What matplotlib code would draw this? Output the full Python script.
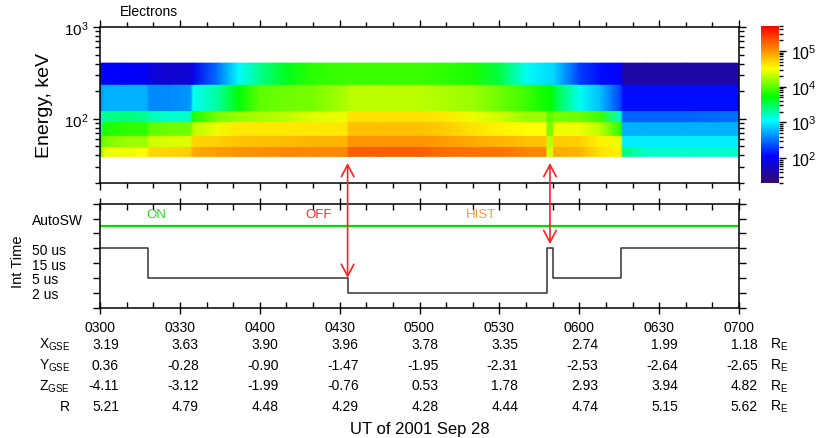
import matplotlib
matplotlib.use('Agg')
import matplotlib.pyplot as plt
import numpy as np
from matplotlib.colors import LinearSegmentedColormap, LogNorm
from matplotlib.patches import ConnectionPatch
from matplotlib.ticker import LogLocator, NullFormatter, MultipleLocator

plt.rcParams['font.family'] = ['Liberation Sans', 'DejaVu Sans']
plt.rcParams['mathtext.fontset'] = 'custom'
plt.rcParams['mathtext.rm'] = 'Liberation Sans'
plt.rcParams['mathtext.it'] = 'Liberation Sans'

# electron energy channel edges, keV
energy_edges = [39, 50, 66, 93, 123, 238, 404]

# spectrogram sample times, minutes after 03:00 UT
t_spec = [0, 1.5, 10, 17.5, 18.5, 26, 34, 35, 44, 52, 60, 70, 80, 92.5, 93.5, 105,
          120, 130, 140, 150, 160, 167.5, 168, 170, 170.5, 180, 188, 195.5, 196.5,
          205, 220, 240]

# log10 intensity per channel (lowest energy first)
ch1 = [3.95, 4.45, 4.45, 4.5, 4.7, 4.7, 4.72, 4.9, 4.95, 5.0, 5.02, 5.05, 5.05, 5.05, 5.25, 5.25,
       5.25, 5.18, 5.15, 5.15, 5.08, 5.05, 4.38, 4.38, 4.9, 4.85, 4.65, 4.55, 3.4,
       3.2, 3.2, 3.2]
ch2 = [3.85, 4.1, 4.2, 4.2, 4.35, 4.38, 4.4, 4.7, 4.72, 4.78, 4.8, 4.82, 4.85, 4.85, 5.0, 5.0,
       5.0, 4.95, 4.9, 4.85, 4.8, 4.78, 4.3, 4.3, 4.75, 4.72, 4.55, 4.45, 3.0,
       3.0, 3.0, 3.0]
ch3 = [3.1, 3.8, 3.85, 3.85, 4.0, 4.05, 4.05, 4.3, 4.45, 4.6, 4.6, 4.6, 4.6, 4.6, 4.8, 4.8,
       4.8, 4.72, 4.65, 4.55, 4.5, 4.5, 4.1, 4.1, 4.45, 4.45, 4.3, 3.85, 2.75,
       2.75, 2.75, 2.75]
ch4 = [3.0, 3.35, 3.4, 3.35, 3.25, 3.2, 3.2, 3.8, 4.1, 4.2, 4.25, 4.3, 4.4, 4.45, 4.65, 4.65,
       4.65, 4.6, 4.45, 4.35, 4.2, 4.2, 4.0, 4.0, 4.1, 4.05, 3.9, 3.2, 2.45,
       2.45, 2.45, 2.5]
ch5 = [2.6, 2.75, 2.75, 2.75, 2.6, 2.6, 2.65, 3.1, 3.3, 3.7, 4.0, 4.05, 4.1, 4.25, 4.3, 4.3,
       4.3, 4.25, 4.2, 4.05, 3.9, 3.75, 3.75, 3.7, 3.6, 3.1, 2.8, 2.3, 2.1,
       2.1, 2.1, 2.1]
ch6 = [2.1, 2.05, 2.05, 2.0, 1.9, 1.8, 1.85, 1.95, 2.5, 3.05, 3.35, 3.65, 3.85, 3.9, 3.9, 3.9,
       3.9, 3.85, 3.8, 3.55, 3.1, 2.95, 2.95, 2.9, 2.9, 2.3, 2.1, 2.05, 1.6,
       1.6, 1.6, 1.6]

# integration time mode: 1=2us, 2=5us, 3=15us, 4=50us
t_int = [0, 18, 93, 168, 170, 195.5, 240]
int_level = [4, 2, 1, 4, 2, 4, 4]
autosw_level = 5.5
mode_labels = ['ON', 'OFF', 'HIST']
mode_times = [21, 82, 143]
mode_colors = ['#22e022', '#ff2828', '#ff9933']
ytick_pos = [1, 2, 3, 4, 6]
ytick_text = ['2 us', '5 us', '15 us', '50 us', 'AutoSW']

# arrows: time, Int Time level at tip
arrow_times = [93, 169]
arrow_tips = [2.0, 4.28]

# orbit table
tick_labels = ['0300', '0330', '0400', '0430', '0500', '0530', '0600', '0630', '0700']
x_gse = [3.19, 3.63, 3.90, 3.96, 3.78, 3.35, 2.74, 1.99, 1.18]
y_gse = [0.36, -0.28, -0.90, -1.47, -1.95, -2.31, -2.53, -2.64, -2.65]
z_gse = [-4.11, -3.12, -1.99, -0.76, 0.53, 1.78, 2.93, 3.94, 4.82]
r_dist = [5.21, 4.79, 4.48, 4.29, 4.28, 4.44, 4.74, 5.15, 5.62]

cmap = LinearSegmentedColormap.from_list('rainbow39', [
    (0.00, (0.20, 0.05, 0.42)),
    (0.17, (0.0, 0.0, 1.0)),
    (0.40, (0.0, 1.0, 1.0)),
    (0.55, (0.0, 1.0, 0.0)),
    (0.73, (1.0, 1.0, 0.0)),
    (0.85, (1.0, 0.55, 0.0)),
    (1.00, (1.0, 0.0, 0.0)),
])
norm = LogNorm(vmin=20, vmax=5e5)

fig = plt.figure(figsize=(8.18, 4.39), dpi=100)
W, H = 818, 439
ax1 = fig.add_axes([100 / W, 1 - 184 / H, 639 / W, 156 / H])
ax2 = fig.add_axes([100 / W, 1 - 308.5 / H, 639 / W, 103.8 / H])
cax = fig.add_axes([761 / W, 1 - 184 / H, 18 / W, 157 / H])

# spectrogram, one strip per channel
t = np.array(t_spec, dtype=float)
mesh = None
for i, ch in enumerate([ch1, ch2, ch3, ch4, ch5, ch6]):
    X = np.vstack([t, t])
    Y = np.vstack([np.full_like(t, energy_edges[i]), np.full_like(t, energy_edges[i + 1])])
    C = 10 ** np.vstack([ch, ch])
    mesh = ax1.pcolormesh(X, Y, C, cmap=cmap, norm=norm, shading='gouraud')

ax1.set_yscale('log')
ax1.set_ylim(20, 1000)
ax1.set_xlim(0, 240)
ax1.set_ylabel('Energy, keV', fontsize=14, labelpad=8)
ax1.text(20 / 639, 1 + 16 / 156, 'Electrons', transform=ax1.transAxes, fontsize=10,
         ha='left', va='center')
ax1.xaxis.set_major_locator(MultipleLocator(30))
ax1.xaxis.set_minor_locator(MultipleLocator(10))
ax1.tick_params(which='both', direction='out', top=True, right=True, labelbottom=False,
                labelsize=11)
ax1.tick_params(which='major', length=5, width=1)
ax1.tick_params(which='minor', length=3.5, width=1)
ax1.yaxis.set_minor_formatter(NullFormatter())

# colorbar
cb = fig.colorbar(mesh, cax=cax)
cb.outline.set_visible(False)
cb.ax.yaxis.set_major_locator(LogLocator(base=10, numticks=10))
cb.ax.yaxis.set_minor_locator(LogLocator(base=10, subs=np.arange(2, 10), numticks=10))
cb.ax.yaxis.set_minor_formatter(NullFormatter())
cb.ax.tick_params(which='both', direction='out', labelsize=11.5, width=1)
cb.ax.tick_params(which='major', length=5)
cb.ax.tick_params(which='minor', length=3)

# instrument mode panel
ax2.step(t_int, int_level, where='post', color='#333333', lw=1.1)
ax2.axhline(autosw_level, color='#00e000', lw=1.6)
for lab, tm, col in zip(mode_labels, mode_times, mode_colors):
    ax2.text(tm, 6.3, lab, color=col, fontsize=9.5, ha='center', va='center')
ax2.set_xlim(0, 240)
ax2.set_ylim(0, 7)
ax2.set_yticks(range(8))
ax2.set_yticklabels(['' if k not in ytick_pos else ytick_text[ytick_pos.index(k)]
                     for k in range(8)])
for lab in ax2.get_yticklabels():
    lab.set_ha('left')
ax2.tick_params(axis='y', which='both', direction='out', right=True, length=5, width=1,
                labelsize=10, pad=44)
ax2.set_xticks(np.arange(0, 241, 30))
ax2.set_xticklabels(tick_labels)
ax2.xaxis.set_minor_locator(MultipleLocator(10))
ax2.tick_params(axis='x', which='both', top=True, labelsize=10, width=1)
ax2.tick_params(axis='x', which='major', direction='inout', length=8, pad=5)
ax2.tick_params(axis='x', which='minor', direction='in', length=4)
fig.text(18 / W, 1 - 262 / H, 'Int Time', rotation=90, fontsize=10.5,
         ha='center', va='center')

for ax in (ax1, ax2):
    for sp in ax.spines.values():
        sp.set_linewidth(1.1)

# red double arrows linking the panels
for tm, tip in zip(arrow_times, arrow_tips):
    con = ConnectionPatch(xyA=(tm, 33), coordsA=ax1.transData,
                          xyB=(tm, tip), coordsB=ax2.transData,
                          arrowstyle='<->,head_length=0.85,head_width=0.45',
                          mutation_scale=10, color='#ff2020', lw=1.2,
                          shrinkA=0, shrinkB=0)
    fig.add_artist(con)

# orbit table under the time axis
rows = [(r'X$_{\mathregular{GSE}}$', x_gse, 345),
        (r'Y$_{\mathregular{GSE}}$', y_gse, 365.7),
        (r'Z$_{\mathregular{GSE}}$', z_gse, 386.5),
        ('R', r_dist, 407.3)]
for name, vals, ypix in rows:
    yf = 1 - ypix / H
    fig.text(70 / W, yf, name, ha='right', va='center', fontsize=10)
    for k, v in enumerate(vals):
        xpix = 100 + k * 30 * 639 / 240 + 19
        fig.text(xpix / W, yf, '%.2f' % v, ha='right', va='center', fontsize=10)
    fig.text(770 / W, yf, r'R$_{\mathregular{E}}$', ha='left', va='center', fontsize=10)

fig.text(420 / W, 1 - 430 / H, 'UT of 2001 Sep 28', ha='center', va='center', fontsize=12)

fig.savefig('out.png', dpi=100)
